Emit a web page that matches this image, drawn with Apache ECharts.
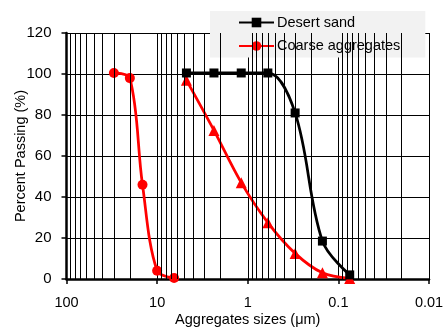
<!DOCTYPE html>
<html><head><meta charset="utf-8">
<script src="https://cdn.jsdelivr.net/npm/echarts@6/dist/echarts.min.js"></script>
<style>html,body{margin:0;padding:0;background:#fff}#c{width:444px;height:329px}</style>
</head><body><div id="c"></div>
<script>
// Data
var sieveSizes = [4.75, 2.36, 1.18, 0.6, 0.3, 0.15, 0.075];
var desertSand = [100.5, 100.5, 100.5, 100.5, 81, 18.5, 2];
var fineAggregates = [97, 72.5, 47, 27.5, 12.5, 3, 0.3];
var coarseSizes = [30, 20, 14.5, 10, 6.5];
var coarseAggregates = [100.5, 98, 46, 4, 0.5];
var yTicks = [0, 20, 40, 60, 80, 100, 120];
var xTicks = [100, 10, 1, 0.1, 0.01];

function pairs(xs, ys){ return xs.map(function(x,i){ return [x, ys[i]]; }); }
// minor log grid lines (2..9 per decade)
var minorLines = [];
for (var k = -2; k <= 1; k++) {
  for (var m = 2; m <= 9; m++) minorLines.push({xAxis: m * Math.pow(10, k)});
}
var FONT = 'Liberation Sans';
var chart = echarts.init(document.getElementById('c'), null, {renderer: 'canvas'});
chart.setOption({
  animation: false,
  backgroundColor: '#fff',
  textStyle: {fontFamily: FONT},
  grid: {left: 66.5, right: 15, top: 33, bottom: 50, containLabel: false, outerBoundsMode: 'none'},
  legend: {
    data: ['Desert sand', 'Coarse aggregates'],
    orient: 'vertical',
    left: 210, top: 11,
    backgroundColor: '#f2f2f2',
    padding: [4, 25, 4, 28],
    itemWidth: 35, itemHeight: 12, itemGap: 8.5,
    textStyle: {fontFamily: FONT, fontSize: 14.5, color: '#000', padding: [0,0,0,-2]}
  },
  xAxis: {
    type: 'log', logBase: 10, inverse: true, min: 0.01, max: 100,
    name: 'Aggregates sizes (μm)', nameLocation: 'middle', nameGap: 33, nameMoveOverlap: false,
    nameTextStyle: {fontFamily: FONT, fontSize: 14.5, color: '#000'},
    axisLine: {show: true, onZero: false, lineStyle: {color: '#000', width: 2.5}},
    axisTick: {show: true, inside: false, length: 5, lineStyle: {color: '#000', width: 1.5}},
    axisLabel: {fontFamily: FONT, fontSize: 14.5, color: '#000', margin: 16,
      formatter: function(v){ var r = xTicks.filter(function(t){return Math.abs(t-v)/t < 1e-6;}); return r.length ? String(r[0]) : ''; }},
    splitLine: {show: true, lineStyle: {color: '#000', width: 1}}
  },
  yAxis: {
    type: 'value', min: 0, max: 120, interval: 20,
    name: 'Percent Passing (%)', nameLocation: 'middle', nameGap: 38, nameMoveOverlap: false,
    nameTextStyle: {fontFamily: FONT, fontSize: 14.5, color: '#000'},
    axisLine: {show: true, lineStyle: {color: '#000', width: 2.5}},
    axisTick: {show: true, length: 5, lineStyle: {color: '#000', width: 1.5}},
    axisLabel: {fontFamily: FONT, fontSize: 15, color: '#000', margin: 15,
      formatter: function(v){ return yTicks.indexOf(v) >= 0 ? String(v) : ''; }},
    splitLine: {show: true, lineStyle: {color: '#000', width: 1}}
  },
  series: [
    {
      name: 'minor', type: 'line', data: [], silent: true,
      markLine: {silent: true, symbol: 'none', label: {show: false},
        lineStyle: {color: '#000', width: 1, type: 'solid'}, emphasis: {disabled: true},
        data: minorLines}
    },
    {
      name: 'Coarse aggregates', type: 'line', smooth: 0.35,
      data: pairs(coarseSizes, coarseAggregates),
      symbol: 'circle', symbolSize: 10,
      lineStyle: {color: '#ff0000', width: 2.75}, itemStyle: {color: '#ff0000'}
    },
    {
      name: 'Fine aggregates', type: 'line', smooth: 0.35,
      data: pairs(sieveSizes, fineAggregates),
      symbol: 'triangle', symbolSize: 11,
      lineStyle: {color: '#ff0000', width: 2.75}, itemStyle: {color: '#ff0000'}
    },
    {
      name: 'Desert sand', type: 'line', smooth: 0.35,
      data: pairs(sieveSizes, desertSand),
      symbol: 'rect', symbolSize: 9,
      lineStyle: {color: '#000', width: 2.75}, itemStyle: {color: '#000'}
    }
  ]
});
</script></body></html>
